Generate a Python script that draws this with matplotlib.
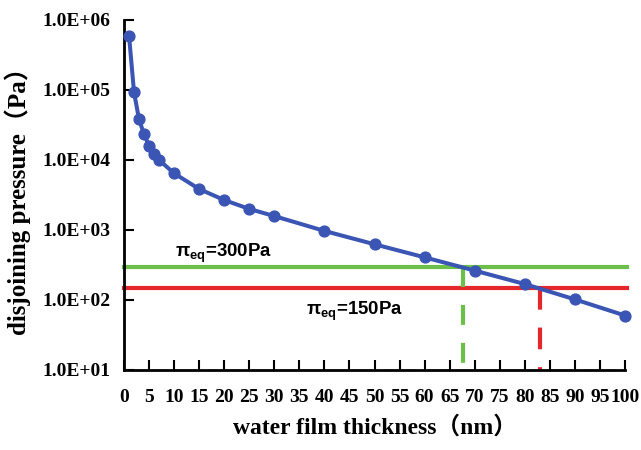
import matplotlib

matplotlib.use("Agg")
import matplotlib.pyplot as plt
from matplotlib.ticker import FixedLocator, FixedFormatter

# water film thickness (nm) and disjoining pressure (Pa)
thickness = [1, 2, 3, 4, 5, 6, 7, 10, 15, 20, 25, 30, 40, 50, 60, 70, 80, 90, 100]
pressure = [6.0e5, 9.3e4, 3.8e4, 2.33e4, 1.6e4, 1.22e4, 1.0e4, 6.45e3, 3.85e3,
            2.68e3, 2.0e3, 1.58e3, 970, 625, 407, 263, 169, 102, 60]

# equilibrium pressures and where they cross the curve
eq_pressure = [300, 150]
eq_thickness = [67.6, 83.0]
eq_labels = ["300Pa", "150Pa"]

x_ticks = list(range(0, 101, 5))
y_ticks = [1e1, 1e2, 1e3, 1e4, 1e5, 1e6]
y_tick_labels = ["1.0E+01", "1.0E+02", "1.0E+03", "1.0E+04", "1.0E+05", "1.0E+06"]

plt.rcParams.update({
    "mathtext.fontset": "custom",
    "mathtext.rm": "Liberation Sans:bold",
    "mathtext.bf": "Liberation Sans:bold",
})

serif = ["Liberation Serif", "Noto Sans CJK SC"]

fig = plt.figure(figsize=(6.41, 4.5), dpi=100)
ax = fig.add_axes([124 / 641, 80 / 450, 501 / 641, 350 / 450])

blue = "#3A55B4"
green = "#6CC04A"
red = "#E5262B"

# horizontal equilibrium lines
ax.plot([0, 100.3], [eq_pressure[0]] * 2, color=green, lw=3.0, clip_on=False, zorder=2)
ax.plot([0, 100.3], [eq_pressure[1]] * 2, color=red, lw=3.0, clip_on=False, zorder=2)

# dashed drops to the x axis
ax.plot([eq_thickness[0]] * 2, [eq_pressure[0], 12.6], color=green, lw=3.0,
        linestyle=(0, (4.8, 4.3)), zorder=2)
ax.plot([eq_thickness[1]] * 2, [eq_pressure[1], 10], color=red, lw=3.0,
        linestyle=(0, (5.2, 4.3)), zorder=2)

# pressure curve
ax.plot(thickness, pressure, color=blue, lw=2.9, marker="o", markersize=7.8,
        clip_on=False, zorder=3)

ax.text(10.2, 416, "π$_{\\mathrm{eq}}$=" + eq_labels[0], fontsize=13.4,
        family="Liberation Sans", fontweight="bold", va="baseline", ha="left")
ax.text(36.3, 61, "π$_{\\mathrm{eq}}$=" + eq_labels[1], fontsize=13.4,
        family="Liberation Sans", fontweight="bold", va="baseline", ha="left")

ax.set_yscale("log")
ax.set_xlim(0, 100)
ax.set_ylim(1e1, 1e6)

ax.xaxis.set_major_locator(FixedLocator(x_ticks))
ax.yaxis.set_major_locator(FixedLocator(y_ticks))
ax.yaxis.set_major_formatter(FixedFormatter(y_tick_labels))
ax.yaxis.set_minor_locator(FixedLocator([]))

ax.tick_params(axis="both", direction="in", length=7, width=1.5, color="black")
ax.tick_params(axis="x", pad=14)
ax.tick_params(axis="y", pad=10)
for lbl in ax.get_xticklabels() + ax.get_yticklabels():
    lbl.set_family("Liberation Serif")
    lbl.set_fontweight("bold")
    lbl.set_fontsize(14)

for side in ["top", "right"]:
    ax.spines[side].set_visible(False)
for side in ["left", "bottom"]:
    ax.spines[side].set_linewidth(2.0)

ax.set_xlabel("water film thickness（nm）", family=serif, fontweight="bold",
              fontsize=17, labelpad=7)
ax.set_ylabel("disjoining pressure（Pa）", family=serif, fontweight="bold",
              fontsize=18, labelpad=8)

fig.savefig("out.png", dpi=100)
